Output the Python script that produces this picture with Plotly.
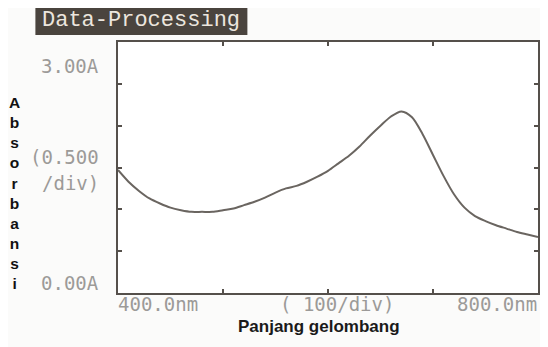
import plotly.graph_objects as go

wavelength_nm = [400, 410, 420, 430, 440, 450, 460, 470, 480, 490, 500, 510, 520, 530, 540,
                 550, 560, 570, 580, 590, 600, 610, 620, 630, 640, 650, 660, 670, 680, 690,
                 700, 710, 720, 730, 740, 750, 760, 770, 780, 790, 800]
absorbance = [1.47, 1.33, 1.22, 1.13, 1.07, 1.02, 0.99, 0.97, 0.97, 0.97, 0.99, 1.01, 1.05, 1.09, 1.14,
              1.20, 1.25, 1.28, 1.33, 1.39, 1.46, 1.55, 1.64, 1.75, 1.88, 2.00, 2.11, 2.17, 2.10, 1.90,
              1.65, 1.40, 1.18, 1.02, 0.92, 0.86, 0.81, 0.77, 0.73, 0.70, 0.67]

x_range = [400, 800]
y_range = [0, 3.0]
x_dtick = 100
y_dtick = 0.5

header_text = "Data-Processing"
y_labels = ["3.00A", "(0.500", "/div)", "0.00A"]
x_labels = ["400.0nm", "( 100/div)", "800.0nm"]
x_title = "Panjang gelombang"
y_title = "Absorbansi"

# page body has an 8px default margin, so the figure is made smaller and shifted
OFF = 8
W, H = 548 - OFF, 347 - OFF
L, R, T, B = 118 - OFF, 540 - OFF, 42 - OFF, 293 - OFF

def px(xp):
    return (xp - OFF - L) / (R - L)

def py(yp):
    return (B - (yp - OFF)) / (B - T)

line_col = "#6a6560"
frame_col = "#55504b"
label_col = "#9c9a98"
mono = "DejaVu Sans Mono"

fig = go.Figure()
fig.add_trace(go.Scatter(x=wavelength_nm, y=absorbance, mode="lines",
                         line=dict(color=line_col, width=2, shape="spline", smoothing=0.8),
                         hoverinfo="skip", showlegend=False))

axis_common = dict(showgrid=False, zeroline=False, showline=True, linecolor=frame_col,
                   linewidth=2, mirror="ticks", ticks="inside", ticklen=4, tickwidth=2,
                   tickcolor=frame_col, showticklabels=False)
fig.update_xaxes(range=x_range, dtick=x_dtick, tick0=400, **axis_common)
fig.update_yaxes(range=y_range, dtick=y_dtick, tick0=0, **axis_common)

ann = []
ann.append(dict(text=y_labels[0], x=px(101), y=py(66), xanchor="right", yanchor="middle"))
ann.append(dict(text=y_labels[1], x=px(101), y=py(157), xanchor="right", yanchor="middle"))
ann.append(dict(text=y_labels[2], x=px(101), y=py(183), xanchor="right", yanchor="middle"))
ann.append(dict(text=y_labels[3], x=px(101), y=py(283), xanchor="right", yanchor="middle"))
ann.append(dict(text=x_labels[0], x=px(116), y=py(304), xanchor="left", yanchor="middle"))
ann.append(dict(text=x_labels[1], x=px(338), y=py(304), xanchor="center", yanchor="middle"))
ann.append(dict(text=x_labels[2], x=px(541), y=py(304), xanchor="right", yanchor="middle"))
for a in ann:
    a.update(xref="paper", yref="paper", showarrow=False,
             font=dict(family=mono, size=19, color=label_col))

ann.append(dict(text=x_title, x=px(320), y=py(327), xref="paper", yref="paper",
                xanchor="center", yanchor="middle", showarrow=False,
                font=dict(family="Liberation Sans", size=17, color="#1a1a1a", weight="bold")))
ann.append(dict(text="<br>".join(list(y_title)), x=px(14), y=py(193), xref="paper", yref="paper",
                xanchor="center", yanchor="middle", showarrow=False,
                font=dict(family="Liberation Sans", size=15.5, color="#111111", weight="bold")))
ann.append(dict(text=header_text, x=px(141), y=py(20), xref="paper", yref="paper",
                xanchor="center", yanchor="middle", showarrow=False,
                font=dict(family="Liberation Mono", size=22, color="#ece6de")))

shapes = [dict(type="rect", xref="paper", yref="paper", x0=px(35), x1=px(248), y0=py(35), y1=py(5),
               fillcolor="#4a443e", line=dict(width=0), layer="below")]

fig.update_layout(width=W, height=H, margin=dict(l=L, r=W - R, t=T, b=H - B),
                  paper_bgcolor="#fbfbfa", plot_bgcolor="#ffffff",
                  annotations=ann, shapes=shapes)

fig.write_html("out.html")
